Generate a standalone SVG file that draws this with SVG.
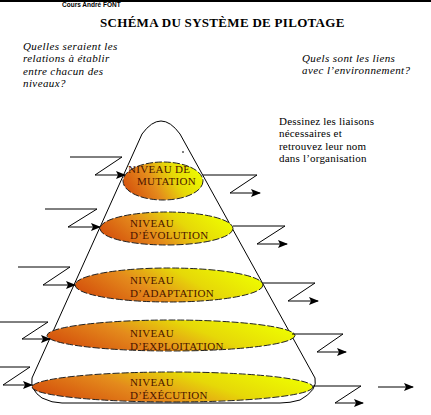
<svg xmlns="http://www.w3.org/2000/svg" width="431" height="415" viewBox="0 0 431 415">
<defs>
<linearGradient id="g" x1="0" y1="0.65" x2="1" y2="0.35">
<stop offset="0" stop-color="#d4500c"/>
<stop offset="0.35" stop-color="#e48a1c"/>
<stop offset="0.65" stop-color="#e6d808"/>
<stop offset="1" stop-color="#eefc00"/>
</linearGradient>
<marker id="ah" markerWidth="10" markerHeight="8" refX="9" refY="4" orient="auto" markerUnits="userSpaceOnUse">
<path d="M0,0 L10,4 L0,8 L2,4 z" fill="#000"/>
</marker>
<style>
.lv{fill:url(#g);stroke:#222;stroke-width:1;stroke-dasharray:7,2}
.lt{font-size:11px;fill:#4a1400;letter-spacing:0.3px}
.q{font-size:11px;font-style:italic;fill:#000;letter-spacing:0.4px}
.n{font-size:11px;fill:#000;letter-spacing:0.2px}
.z{fill:none;stroke:#000;stroke-width:1}
</style>
</defs>
<rect width="431" height="415" fill="#fff"/>
<line x1="0" y1="1" x2="431" y2="1" stroke="#000" stroke-width="2"/>
<text x="62" y="7" font-family="Liberation Sans, sans-serif" font-size="6.5" font-weight="bold" fill="#000">Cours André FONT</text>
<text x="100" y="27" font-family="Liberation Serif, serif" font-size="13" font-weight="bold" letter-spacing="0.3" fill="#000">SCHÉMA DU SYSTÈME DE PILOTAGE</text>
<g id="question-left" font-family="Liberation Serif, serif">
<text class="q" x="23" y="49.5">Quelles seraient les</text>
<text class="q" x="23" y="62">relations à établir</text>
<text class="q" x="23" y="74.5">entre chacun des</text>
<text class="q" x="23" y="87">niveaux?</text>
</g>
<g id="question-right" font-family="Liberation Serif, serif">
<text class="q" x="302" y="61.5">Quels sont les liens</text>
<text class="q" x="302" y="74">avec l’environnement?</text>
</g>
<g id="instruction" font-family="Liberation Serif, serif">
<text class="n" x="279" y="124.5">Dessinez les liaisons</text>
<text class="n" x="279" y="137">nécessaires et</text>
<text class="n" x="279" y="149.5">retrouvez leur nom</text>
<text class="n" x="279" y="162">dans l’organisation</text>
</g>
<g id="cone">
<path d="M32,378 L142,134 Q161,108 180,134 L315,378 Q318,390 300,400 Q290,403 280,403 L62,403 Q52,403 42,398 Q30,390 32,378" fill="none" stroke="#000" stroke-width="1"/>
<line x1="182" y1="152" x2="184" y2="152" stroke="#000" stroke-width="1"/>
</g>
<g id="niveau-mutation" font-family="Liberation Serif, serif">
<ellipse class="lv" cx="163" cy="181" rx="40" ry="19"/>
<text class="lt" x="128" y="173">NIVEAU DE</text>
<text class="lt" x="137" y="185">MUTATION</text>
</g>
<g id="niveau-evolution" font-family="Liberation Serif, serif">
<ellipse class="lv" cx="166.5" cy="228.5" rx="66.5" ry="16.5"/>
<text class="lt" x="130" y="227">NIVEAU</text>
<text class="lt" x="130" y="239">D’ÉVOLUTION</text>
</g>
<g id="niveau-adaptation" font-family="Liberation Serif, serif">
<ellipse class="lv" cx="169" cy="285" rx="94" ry="17"/>
<text class="lt" x="130" y="284">NIVEAU</text>
<text class="lt" x="130" y="297">D’ADAPTATION</text>
</g>
<g id="niveau-exploitation" font-family="Liberation Serif, serif">
<ellipse class="lv" cx="171" cy="335.5" rx="124" ry="15.5"/>
<text class="lt" x="130" y="337">NIVEAU</text>
<text class="lt" x="130" y="350">D’EXPLOITATION</text>
</g>
<g id="niveau-execution" font-family="Liberation Serif, serif">
<ellipse class="lv" cx="172.5" cy="387" rx="140.5" ry="15"/>
<text class="lt" x="130" y="386">NIVEAU</text>
<text class="lt" x="130" y="399">D’ÉXÉCUTION</text>
</g>
<g id="connectors">
<polyline class="z" points="70,157 122,157 95,175 125,175" marker-end="url(#ah)"/>
<polyline class="z" points="45,209 97,209 68,227 100,227" marker-end="url(#ah)"/>
<polyline class="z" points="18,267 70,267 43,285 75,285" marker-end="url(#ah)"/>
<polyline class="z" points="0,322 48,322 22,339 50,339" marker-end="url(#ah)"/>
<polyline class="z" points="0,367 30,367 3,385 32,385" marker-end="url(#ah)"/>
<polyline class="z" points="203,175 257,175 230,193 260,193" marker-end="url(#ah)"/>
<polyline class="z" points="233,226 285,226 257,244 287,244" marker-end="url(#ah)"/>
<polyline class="z" points="263,283 315,283 288,301 318,301" marker-end="url(#ah)"/>
<polyline class="z" points="292,334 343,334 317,352 346,352" marker-end="url(#ah)"/>
<polyline class="z" points="313,386 361,386 335,403 363,403" marker-end="url(#ah)"/>
<line class="z" x1="378" y1="387" x2="413" y2="387" marker-end="url(#ah)"/>
</g>
</svg>
